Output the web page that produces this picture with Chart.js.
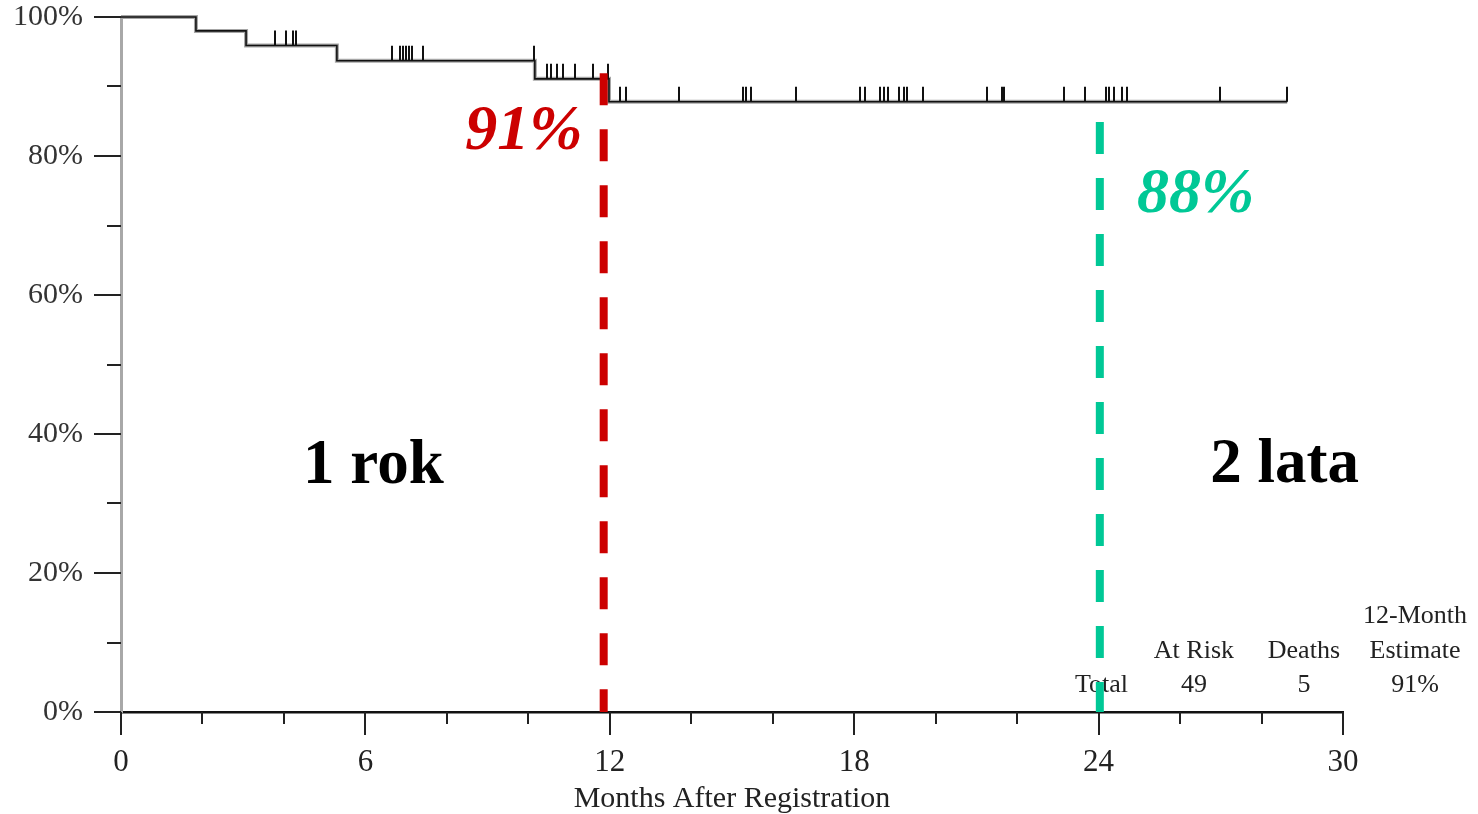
<!DOCTYPE html>
<html>
<head>
<meta charset="utf-8">
<script src="https://cdn.jsdelivr.net/npm/chart.js@4/dist/chart.umd.min.js"></script>
<style>
  body { margin: 0; background: #fff; }
  #wrap { width: 1478px; height: 814px; }
</style>
</head>
<body>
<div id="wrap"><canvas id="kmChart"></canvas></div>
<script>
// Kaplan-Meier steps (months, survival %)
const stepMonths = [0, 1.84, 3.07, 5.3, 10.16, 11.98, 28.63];
const stepSurvival = [100, 98, 95.9, 93.7, 91.1, 87.8, 87.8];

// censored patients (months)
const censorMonths = [
    3.78, 4.04, 4.22, 4.30,
    6.65, 6.85, 6.92, 7.0, 7.07, 7.14, 7.41, 10.14,
    10.46, 10.56, 10.70, 10.85, 11.15, 11.59, 11.96,
    12.25, 12.40, 13.70, 15.27, 15.35, 15.47, 16.57, 18.14, 18.27,
    18.63, 18.73, 18.83, 19.10, 19.22, 19.30, 19.69, 21.26, 21.63, 21.68,
    23.15, 23.67, 24.18, 24.26, 24.38, 24.58, 24.70, 26.98, 28.63
];

// axis ticks
const xMajorTicks = [0, 6, 12, 18, 24, 30];
const xMinorTicks = [2, 4, 8, 10, 14, 16, 20, 22, 26, 28];
const yMajorTicks = [0, 20, 40, 60, 80, 100];
const yMinorTicks = [10, 30, 50, 70, 90];

// marked time points
const markMonths = [11.85, 24.03];
const markTop = [91.9, 84.9];
const markColors = ['#cc0000', '#00c896'];
const markLabels = ['91%', '88%'];

// table under the curve
const tableHeader = ['At Risk', 'Deaths', 'Estimate'];
const tableRow = ['Total', '49', '5', '91%'];

const kmPoints = stepMonths.map((m, i) => ({ x: m, y: stepSurvival[i] }));

// survival at time t from the step arrays
const survivalAt = (t) => {
    let v = stepSurvival[0];
    for (let i = 0; i < stepMonths.length; i++) {
        if (stepMonths[i] <= t) v = stepSurvival[i];
    }
    return v;
}

const serif = '"Liberation Serif", "Times New Roman", serif';

const kmExtras = {
    id: 'kmExtras',
    afterDatasetsDraw(chart) {
        const ctx = chart.ctx;
        const xs = chart.scales.x;
        const ys = chart.scales.y;
        ctx.save();

        // censor marks
        ctx.strokeStyle = '#111';
        ctx.lineWidth = 2;
        censorMonths.forEach(m => {
            const px = Math.round(xs.getPixelForValue(m));
            const py = ys.getPixelForValue(survivalAt(m));
            ctx.beginPath();
            ctx.moveTo(px, py);
            ctx.lineTo(px, py - 15);
            ctx.stroke();
        });

        // axis tick marks
        ctx.strokeStyle = '#222';
        ctx.lineWidth = 2;
        const bottom = chart.chartArea.bottom;
        const left = chart.chartArea.left;
        xMajorTicks.forEach(v => {
            const px = Math.round(xs.getPixelForValue(v));
            ctx.beginPath(); ctx.moveTo(px, bottom); ctx.lineTo(px, bottom + 23); ctx.stroke();
        });
        xMinorTicks.forEach(v => {
            const px = Math.round(xs.getPixelForValue(v));
            ctx.beginPath(); ctx.moveTo(px, bottom); ctx.lineTo(px, bottom + 12); ctx.stroke();
        });
        yMajorTicks.forEach(v => {
            const py = Math.round(ys.getPixelForValue(v));
            ctx.beginPath(); ctx.moveTo(left - 27, py); ctx.lineTo(left, py); ctx.stroke();
        });
        yMinorTicks.forEach(v => {
            const py = Math.round(ys.getPixelForValue(v));
            ctx.beginPath(); ctx.moveTo(left - 14, py); ctx.lineTo(left, py); ctx.stroke();
        });
        ctx.restore();
    },
    afterDraw(chart) {
        const ctx = chart.ctx;
        const xs = chart.scales.x;
        const ys = chart.scales.y;
        ctx.save();

        // big labels
        ctx.textAlign = 'left';
        ctx.textBaseline = 'alphabetic';
        ctx.fillStyle = '#000';
        ctx.font = 'bold 63px ' + serif;
        ctx.fillText('1 rok', xs.getPixelForValue(4.47), ys.getPixelForValue(32.9));
        ctx.fillText('2 lata', xs.getPixelForValue(26.74), ys.getPixelForValue(33.1));

        ctx.font = 'italic bold 64px ' + serif;
        ctx.fillStyle = markColors[0];
        ctx.fillText(markLabels[0], xs.getPixelForValue(8.45), ys.getPixelForValue(81));
        ctx.fillStyle = markColors[1];
        ctx.fillText(markLabels[1], xs.getPixelForValue(24.94), ys.getPixelForValue(71.9));

        // table
        ctx.textAlign = 'center';
        ctx.fillStyle = '#222';
        ctx.font = '26px ' + serif;
        const colX = [24.07, 26.34, 29.04, 31.77];
        ctx.fillText('12-Month', xs.getPixelForValue(colX[3]), ys.getPixelForValue(12.8));
        tableHeader.forEach((t, i) => {
            ctx.fillText(t, xs.getPixelForValue(colX[i + 1]), ys.getPixelForValue(7.8));
        });
        tableRow.forEach((t, i) => {
            ctx.fillText(t, xs.getPixelForValue(colX[i]), ys.getPixelForValue(2.9));
        });

        // dashed marks
        ctx.lineWidth = 8;
        ctx.setLineDash([32, 24]);
        markMonths.forEach((m, i) => {
            const px = xs.getPixelForValue(m);
            ctx.strokeStyle = markColors[i];
            ctx.beginPath();
            ctx.moveTo(px, ys.getPixelForValue(markTop[i]));
            ctx.lineTo(px, ys.getPixelForValue(0));
            ctx.stroke();
        });
        ctx.restore();
    }
};

new Chart(document.getElementById('kmChart'), {
    type: 'line',
    data: {
        datasets: [
            {
                data: kmPoints,
                stepped: true,
                borderColor: '#111',
                borderWidth: 1.6,
                pointRadius: 0,
                fill: false,
                clip: 10
            },
            {
                data: kmPoints,
                stepped: true,
                borderColor: '#a6a6a6',
                borderWidth: 4,
                pointRadius: 0,
                fill: false,
                clip: 10
            }
        ]
    },
    options: {
        responsive: true,
        maintainAspectRatio: false,
        animation: false,
        layout: { padding: { left: 0, top: 17, right: 135, bottom: 0 } },
        plugins: {
            legend: { display: false },
            tooltip: { enabled: false }
        },
        scales: {
            x: {
                type: 'linear',
                min: 0,
                max: 30,
                grid: { display: false },
                border: { display: true, color: '#111', width: 2.5 },
                ticks: {
                    stepSize: 6,
                    padding: 24,
                    color: '#222',
                    font: { family: serif, size: 31 }
                },
                title: {
                    display: true,
                    text: 'Months After Registration',
                    color: '#222',
                    font: { family: serif, size: 30, lineHeight: 1 },
                    padding: { top: 0, bottom: 0 }
                },
                afterFit: (scale) => { scale.height = 102; }
            },
            y: {
                min: 0,
                max: 100,
                grid: { display: false },
                border: { display: true, color: '#a8a8a8', width: 3 },
                ticks: {
                    stepSize: 20,
                    padding: 30,
                    color: '#333',
                    font: { family: serif, size: 30 },
                    callback: (v) => v + '%'
                },
                afterFit: (scale) => {
                    scale.width = 121;
                    scale.paddingTop = 0;
                    scale.paddingBottom = 0;
                }
            }
        }
    },
    plugins: [kmExtras]
});
</script>
</body>
</html>
